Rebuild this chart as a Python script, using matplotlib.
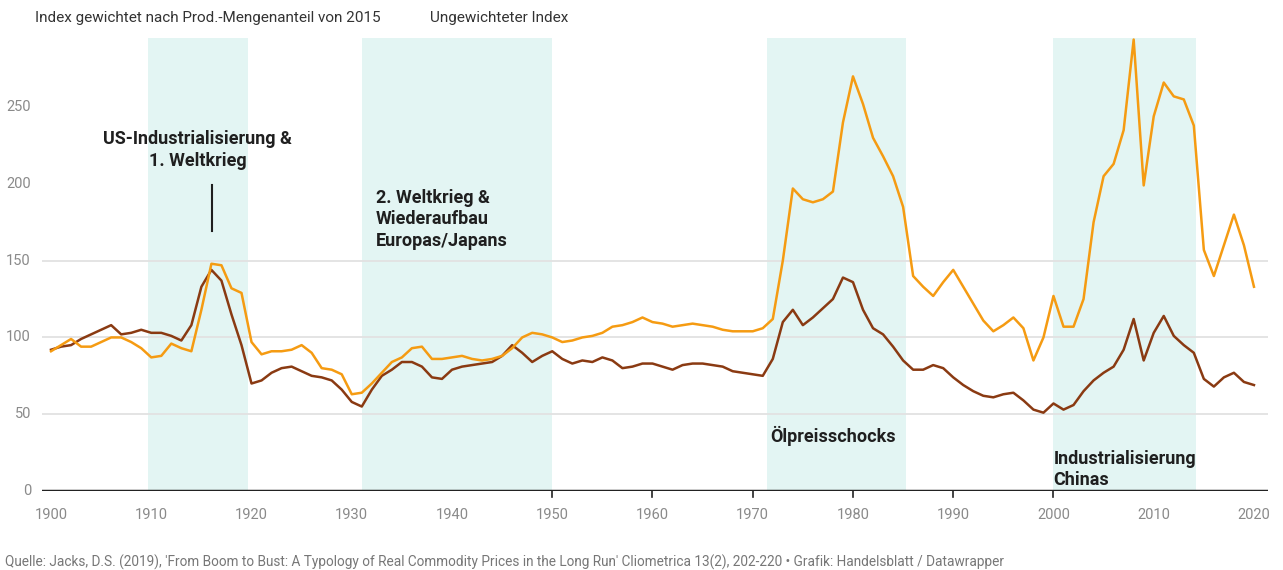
import numpy as np
import matplotlib
matplotlib.use("Agg")
import matplotlib.pyplot as plt

plt.rcParams['font.family'] = ['Roboto', 'DejaVu Sans']

# Jahre und Indexwerte
years = np.arange(1900, 2021)

weighted = [
    91, 95, 99, 94, 94, 97, 100, 100, 97, 93,        # 1900-1909
    87, 88, 96, 93, 91, 118, 148, 147, 132, 129,     # 1910-1919
    97, 89, 91, 91, 92, 95, 90, 80, 79, 76,          # 1920-1929
    63, 64, 70, 77, 84, 87, 93, 94, 86, 86,          # 1930-1939
    87, 88, 86, 85, 86, 88, 93, 100, 103, 102,       # 1940-1949
    100, 97, 98, 100, 101, 103, 107, 108, 110, 113,  # 1950-1959
    110, 109, 107, 108, 109, 108, 107, 105, 104, 104,  # 1960-1969
    104, 106, 112, 150, 197, 190, 188, 190, 195, 240,  # 1970-1979
    270, 252, 230, 218, 205, 185, 140, 133, 127, 136,  # 1980-1989
    144, 133, 122, 111, 104, 108, 113, 106, 85, 100,   # 1990-1999
    127, 107, 107, 125, 175, 205, 213, 235, 294, 199,  # 2000-2009
    244, 266, 257, 255, 238, 157, 140, 160, 180, 160,  # 2010-2019
    133,                                               # 2020
]

unweighted = [
    92, 94, 95, 99, 102, 105, 108, 102, 103, 105,    # 1900-1909
    103, 103, 101, 98, 108, 133, 144, 137, 115, 95,  # 1910-1919
    70, 72, 77, 80, 81, 78, 75, 74, 72, 66,          # 1920-1929
    58, 55, 66, 75, 79, 84, 84, 81, 74, 73,          # 1930-1939
    79, 81, 82, 83, 84, 88, 95, 90, 84, 88,          # 1940-1949
    91, 86, 83, 85, 84, 87, 85, 80, 81, 83,          # 1950-1959
    83, 81, 79, 82, 83, 83, 82, 81, 78, 77,          # 1960-1969
    76, 75, 86, 110, 118, 108, 113, 119, 125, 139,   # 1970-1979
    136, 118, 106, 102, 94, 85, 79, 79, 82, 80,      # 1980-1989
    74, 69, 65, 62, 61, 63, 64, 59, 53, 51,          # 1990-1999
    57, 53, 56, 65, 72, 77, 81, 92, 112, 85,         # 2000-2009
    103, 114, 101, 95, 90, 73, 68, 74, 77, 71,       # 2010-2019
    69,                                              # 2020
]

phases = [(1909.7, 1919.6), (1931.0, 1950.0), (1971.4, 1985.3), (2000.0, 2014.2)]
x_ticks = list(range(1900, 2021, 10))
y_ticks = [0, 50, 100, 150, 200, 250]

orange = "#f59b12"
brown = "#8a3a12"
teal = "#e3f5f3"
text_dark = "#1f1f1f"
grey = "#8a8a8a"

W, H = 1283, 570
fig = plt.figure(figsize=(W / 100, H / 100), dpi=100)
left, right, bottom, top = 42, 1268, 491, 38
ax = fig.add_axes([left / W, 1 - bottom / H, (right - left) / W, (bottom - top) / H])

ax.set_xlim(1899.1, 2021.4)
ax.set_ylim(0, 295)

for a, b in phases:
    ax.axvspan(a, b, color=teal, lw=0, zorder=0)

for v in [50, 100, 150]:
    ax.axhline(v, color="#e2e2e2", lw=1.3, zorder=1)
ax.axhline(0, color="#222222", lw=2.5, zorder=4)

ax.plot(years, unweighted, color=brown, lw=1.8, zorder=3)
ax.plot(years, weighted, color=orange, lw=1.8, zorder=3)

for s in ax.spines.values():
    s.set_visible(False)

ax.set_xticks(x_ticks)
ax.set_xticklabels([str(t) for t in x_ticks])
ax.set_yticks(y_ticks)
ax.set_yticklabels([str(t) for t in y_ticks])
ax.tick_params(axis="x", length=0, pad=12, labelsize=10.5, labelcolor=grey)
ax.tick_params(axis="y", length=0, pad=8, labelsize=10.5, labelcolor=grey)
for t in ax.get_yticklabels():
    t.set_verticalalignment("center")

# kleine Markierungen an der Nulllinie
for t in range(1950, 2001, 10):
    ax.plot([t, t], [0, -4], color="#222222", lw=1.2, clip_on=False, zorder=4)

# Annotationen
ann = dict(color=text_dark, fontsize=13, fontweight="bold", zorder=5)
ax.text(1914.6, 222, "US-Industrialisierung &\n1. Weltkrieg", ha="center", va="center",
        linespacing=1.25, **ann)
ax.plot([1916.1, 1916.1], [169, 199], color=text_dark, lw=1.5, zorder=5)
ax.text(1932.4, 177, "2. Weltkrieg &\nWiederaufbau\nEuropas/Japans", ha="left", va="center",
        linespacing=1.25, **ann)
ax.text(1971.7, 36, "Ölpreisschocks", ha="left", va="center", **ann)
ax.text(2000.0, 14, "Industrialisierung\nChinas", ha="left", va="center",
        linespacing=1.25, **ann)

fig.text(35 / W, 1 - 18 / H, "Index gewichtet nach Prod.-Mengenanteil von 2015",
         fontsize=11, color="#333333", va="center", ha="left")
fig.text(430 / W, 1 - 18 / H, "Ungewichteter Index",
         fontsize=11, color="#333333", va="center", ha="left")

fig.text(5 / W, 1 - 562 / H,
         "Quelle: Jacks, D.S. (2019), 'From Boom to Bust: A Typology of Real Commodity Prices "
         "in the Long Run' Cliometrica 13(2), 202-220 • Grafik: Handelsblatt / Datawrapper",
         fontsize=9.8, color="#777777", va="center", ha="left")

fig.savefig("out.png", dpi=100)
